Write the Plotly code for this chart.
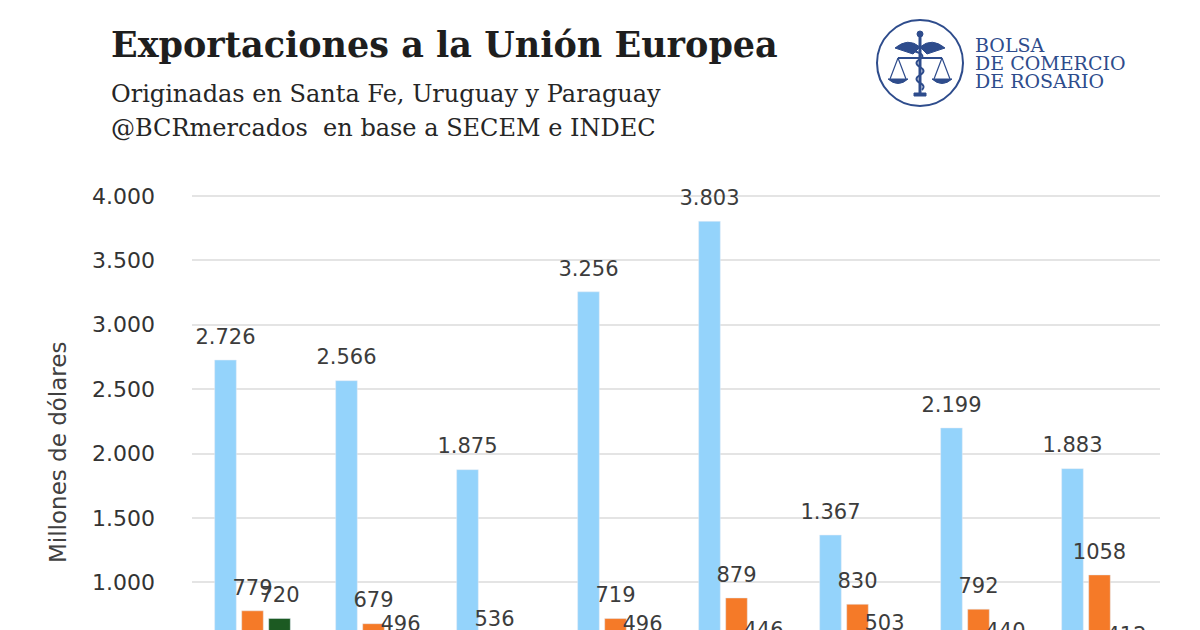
import plotly.graph_objects as go

# data (millones de dolares)
periodos = ['2015', '2016', '2017', '2018', '2019', '2020', '2021', '2022']
santa_fe = [2726, 2566, 1875, 3256, 3803, 1367, 2199, 1883]
uruguay = [779, 679, 536, 719, 879, 830, 792, 1058]
paraguay = [720, 496, 310, 496, 446, 503, 440, 412]
y_ticks = [1000, 1500, 2000, 2500, 3000, 3500, 4000]

azul = '#94D3FB'
naranja = '#F57A28'
verde = '#1C5A22'
navy = '#2E4C8C'


def miles(v):
    # spanish thousands separator
    return f'{v:,}'.replace(',', '.')


# page has an 8px body margin, positions below are screen pixels
OFF = 8
# 4.000 gridline sits at y=196, the image is cut at y=630 (value ~630)
Y_LO, Y_GRID, PX_GRID, PX_TOP = 630, 4000, 196, 168
k = (630 - PX_GRID) / (Y_GRID - Y_LO)          # px per unit
Y_HI = Y_GRID + (PX_GRID - PX_TOP) / k

L, R, T, B = 192 - OFF, 1160 - OFF, PX_TOP - OFF, 630 - OFF


def px(x):
    return (x - OFF - L) / (R - L)


def py(y):
    return (B - (y - OFF)) / (B - T)


lbl_font = dict(family='DejaVu Sans', size=21, color='#3c3c3c')

series = [
    ('Santa Fe', santa_fe, azul, [miles(v) for v in santa_fe]),
    ('Uruguay', uruguay, naranja, [str(v) for v in uruguay]),
    ('Paraguay', paraguay, verde, [str(v) for v in paraguay]),
]

data = []
for name, vals, col, txt in series:
    data.append(go.Bar(x=periodos, y=vals, name=name, marker_color=col))
# value labels, grouped like the bars (clipped at the cut bottom edge)
for name, vals, col, txt in series:
    data.append(go.Scatter(x=periodos, y=vals, mode='markers+text', text=txt,
                           textposition='top center', textfont=lbl_font,
                           marker=dict(size=16, opacity=0), cliponaxis=True,
                           hoverinfo='skip', showlegend=False))

layout = go.Layout(
    width=1200, height=630,
    margin=dict(l=L, r=1200 - R, t=T, b=630 - B),
    paper_bgcolor='white', plot_bgcolor='white',
    barmode='group', bargap=0.33, bargroupgap=0.2,
    scattermode='group', scattergap=0.33,
    showlegend=False,
    xaxis=dict(showticklabels=False, showgrid=False, showline=False, zeroline=False),
    yaxis=dict(range=[Y_LO, Y_HI], tickvals=y_ticks,
               ticktext=[miles(v) for v in y_ticks],
               showgrid=True, gridcolor='#e4e4e4', gridwidth=1.5,
               zeroline=False, showline=False, ticklabelstandoff=36,
               tickfont=dict(family='DejaVu Sans', size=22, color='#333333')),
)
fig = go.Figure(data=data, layout=layout)

# titles
fig.add_annotation(text='<b>Exportaciones a la Unión Europea</b>', xref='paper', yref='paper',
                   x=px(109), y=py(44), xanchor='left', yanchor='middle', showarrow=False,
                   font=dict(family='DejaVu Serif', size=35, color='#1e1e1e'))
fig.add_annotation(text='Originadas en Santa Fe, Uruguay y Paraguay', xref='paper', yref='paper',
                   x=px(109), y=py(94), xanchor='left', yanchor='middle', showarrow=False,
                   font=dict(family='DejaVu Serif', size=24, color='#262626'))
fig.add_annotation(text='@BCRmercados  en base a SECEM e INDEC', xref='paper', yref='paper',
                   x=px(109), y=py(128), xanchor='left', yanchor='middle', showarrow=False,
                   font=dict(family='DejaVu Serif', size=24, color='#262626'))

# y axis title
fig.add_annotation(text='Millones de dólares', xref='paper', yref='paper',
                   x=px(43), y=py(453), textangle=-90, showarrow=False,
                   font=dict(family='DejaVu Sans', size=23, color='#404040'))

# logo: circle + simple emblem drawn in pixels around its centre
cx, cy = px(920), py(63)
logo = dict(xref='paper', yref='paper', xsizemode='pixel', ysizemode='pixel',
            xanchor=cx, yanchor=cy)
fig.add_shape(type='circle', x0=-43, x1=43, y0=-43, y1=43,
              line=dict(color=navy, width=2), **logo)
# staff and knob
fig.add_shape(type='line', x0=0, x1=0, y0=27, y1=-30, line=dict(color=navy, width=3), **logo)
fig.add_shape(type='circle', x0=-3, x1=3, y0=26, y1=32, fillcolor=navy,
              line=dict(color=navy, width=1), **logo)
# wings
fig.add_shape(type='path', path='M 0 16 Q -12 26 -25 15 L -7 9 Z', fillcolor=navy,
              line=dict(color=navy, width=1), **logo)
fig.add_shape(type='path', path='M 0 16 Q 12 26 25 15 L 7 9 Z', fillcolor=navy,
              line=dict(color=navy, width=1), **logo)
# snake
fig.add_shape(type='path', path='M -6 12 Q 7 8 0 4 Q -7 0 0 -4 Q 7 -8 0 -12 Q -7 -16 0 -20 Q 6 -23 2 -27',
              line=dict(color=navy, width=2), **logo)
# beam, strings and pans
fig.add_shape(type='line', x0=-22, x1=22, y0=5, y1=5, line=dict(color=navy, width=2), **logo)
for s in (-1, 1):
    fig.add_shape(type='path',
                  path=f'M {s*22} 5 L {s*30} -16 M {s*22} 5 L {s*14} -16',
                  line=dict(color=navy, width=1.2), **logo)
    fig.add_shape(type='path',
                  path=f'M {s*32} -16 L {s*12} -16 Q {s*22} -25 {s*32} -16 Z',
                  fillcolor=navy, line=dict(color=navy, width=1), **logo)
fig.add_shape(type='rect', x0=-6, x1=6, y0=-33, y1=-30, fillcolor=navy,
              line=dict(color=navy, width=1), **logo)

for texto, yy in [('BOLSA', 45), ('DE COMERCIO', 63), ('DE ROSARIO', 81)]:
    fig.add_annotation(text=texto, xref='paper', yref='paper',
                       x=px(973), y=py(yy), xanchor='left', yanchor='middle',
                       showarrow=False,
                       font=dict(family='DejaVu Serif', size=19, color=navy))

fig.write_html('out.html')
